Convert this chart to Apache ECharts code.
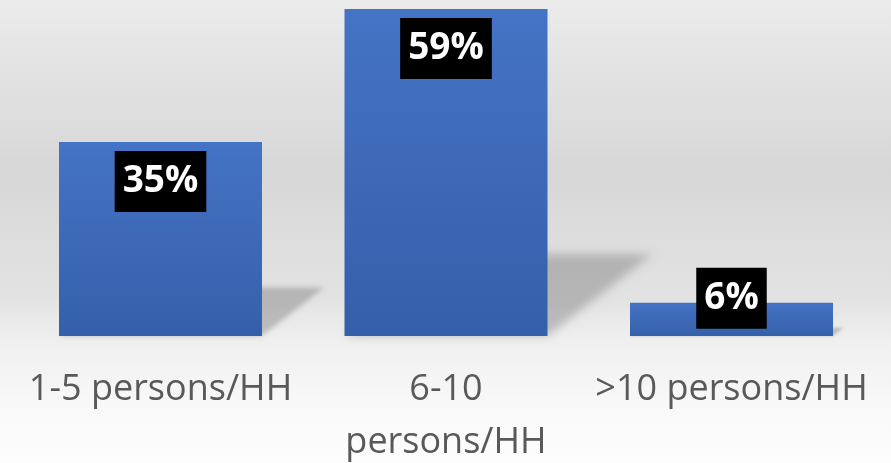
<!DOCTYPE html>
<html>
<head>
<meta charset="utf-8">
<script src="https://cdn.jsdelivr.net/npm/echarts@6/dist/echarts.min.js"></script>
<style>
  html, body { margin: 0; padding: 0; }
  #chart { width: 891px; height: 463px; }
</style>
</head>
<body>
<div id="chart"></div>
<script>
// Household size distribution (share of households, %)
const categories = ['1-5 persons/HH', '6-10 persons/HH', '>10 persons/HH'];
const shares = [35, 59, 6];

const BAR_WIDTH = 203;
const SHIFT = 3000; // shapes are drawn off-canvas so only their soft shadow lands in view

const chart = echarts.init(document.getElementById('chart'), null, { renderer: 'canvas' });

// Blurred perspective shadow cast to the right of each bar
function renderShadow(params, api) {
  const idx = api.value(0);
  const base = api.coord([idx, 0]);
  const top = api.coord([idx, api.value(1)]);
  const h = base[1] - top[1];
  const half = BAR_WIDTH / 2;
  const lift = h * 0.25;
  const skew = h * 0.32;
  const cx = base[0] - SHIFT;
  const blur = Math.max(3, h * 0.028);
  return {
    type: 'polygon',
    shape: {
      points: [
        [cx - half, base[1]],
        [cx + half, base[1]],
        [cx + half + skew, base[1] - lift],
        [cx - half + skew, base[1] - lift]
      ]
    },
    style: {
      fill: '#000',
      shadowBlur: blur,
      shadowOffsetX: SHIFT,
      shadowColor: 'rgba(0,0,0,0.2)'
    }
  };
}

const labelBox = {
  show: true,
  position: 'insideTop',
  distance: 9,
  formatter: '{c}%',
  color: '#ffffff',
  fontFamily: 'Open Sans',
  fontWeight: 'bold',
  fontSize: 37,
  lineHeight: 43,
  backgroundColor: '#000000',
  padding: [9, 8, 9, 8]
};

chart.setOption({
  animation: false,
  backgroundColor: 'transparent',
  graphic: [{
    type: 'rect',
    z: -100,
    silent: true,
    shape: { x: 0, y: 0, width: 891, height: 463 },
    style: {
      fill: new echarts.graphic.LinearGradient(0, 0, 0, 1, [
        { offset: 0, color: '#ebebeb' },
        { offset: 0.37, color: '#d7d7d7' },
        { offset: 0.65, color: '#e3e3e3' },
        { offset: 0.73, color: '#efefef' },
        { offset: 0.87, color: '#f8f8f8' },
        { offset: 1, color: '#fdfdfd' }
      ])
    }
  }],
  grid: {
    left: 17.75, right: 16.75, top: 9, bottom: 127,
    containLabel: false,
    outerBoundsMode: 'none'
  },
  xAxis: {
    type: 'category',
    data: categories,
    axisLine: { show: false },
    axisTick: { show: false },
    axisLabel: {
      color: '#595959',
      fontFamily: 'Open Sans',
      fontSize: 36,
      lineHeight: 53,
      margin: 27,
      interval: 0,
      // the middle category is set on two lines
      formatter: (name) => name === '6-10 persons/HH' ? '6-10\npersons/HH' : name
    }
  },
  yAxis: {
    type: 'value',
    min: 0,
    max: 59,
    show: false,
    splitLine: { show: false }
  },
  series: [
    {
      type: 'custom',
      z: 1,
      silent: true,
      clip: false,
      renderItem: renderShadow,
      data: shares.map((v, i) => [i, v])
    },
    {
      type: 'bar',
      z: 3,
      barWidth: BAR_WIDTH,
      itemStyle: {
        color: new echarts.graphic.LinearGradient(0, 0, 0, 1, [
          { offset: 0, color: '#4573c5' },
          { offset: 1, color: '#355fa9' }
        ])
      },
      label: labelBox,
      data: shares.map((v, i) => i === 2
        ? { value: v, label: { offset: [0, -44] } }
        : v)
    }
  ]
});
</script>
</body>
</html>
